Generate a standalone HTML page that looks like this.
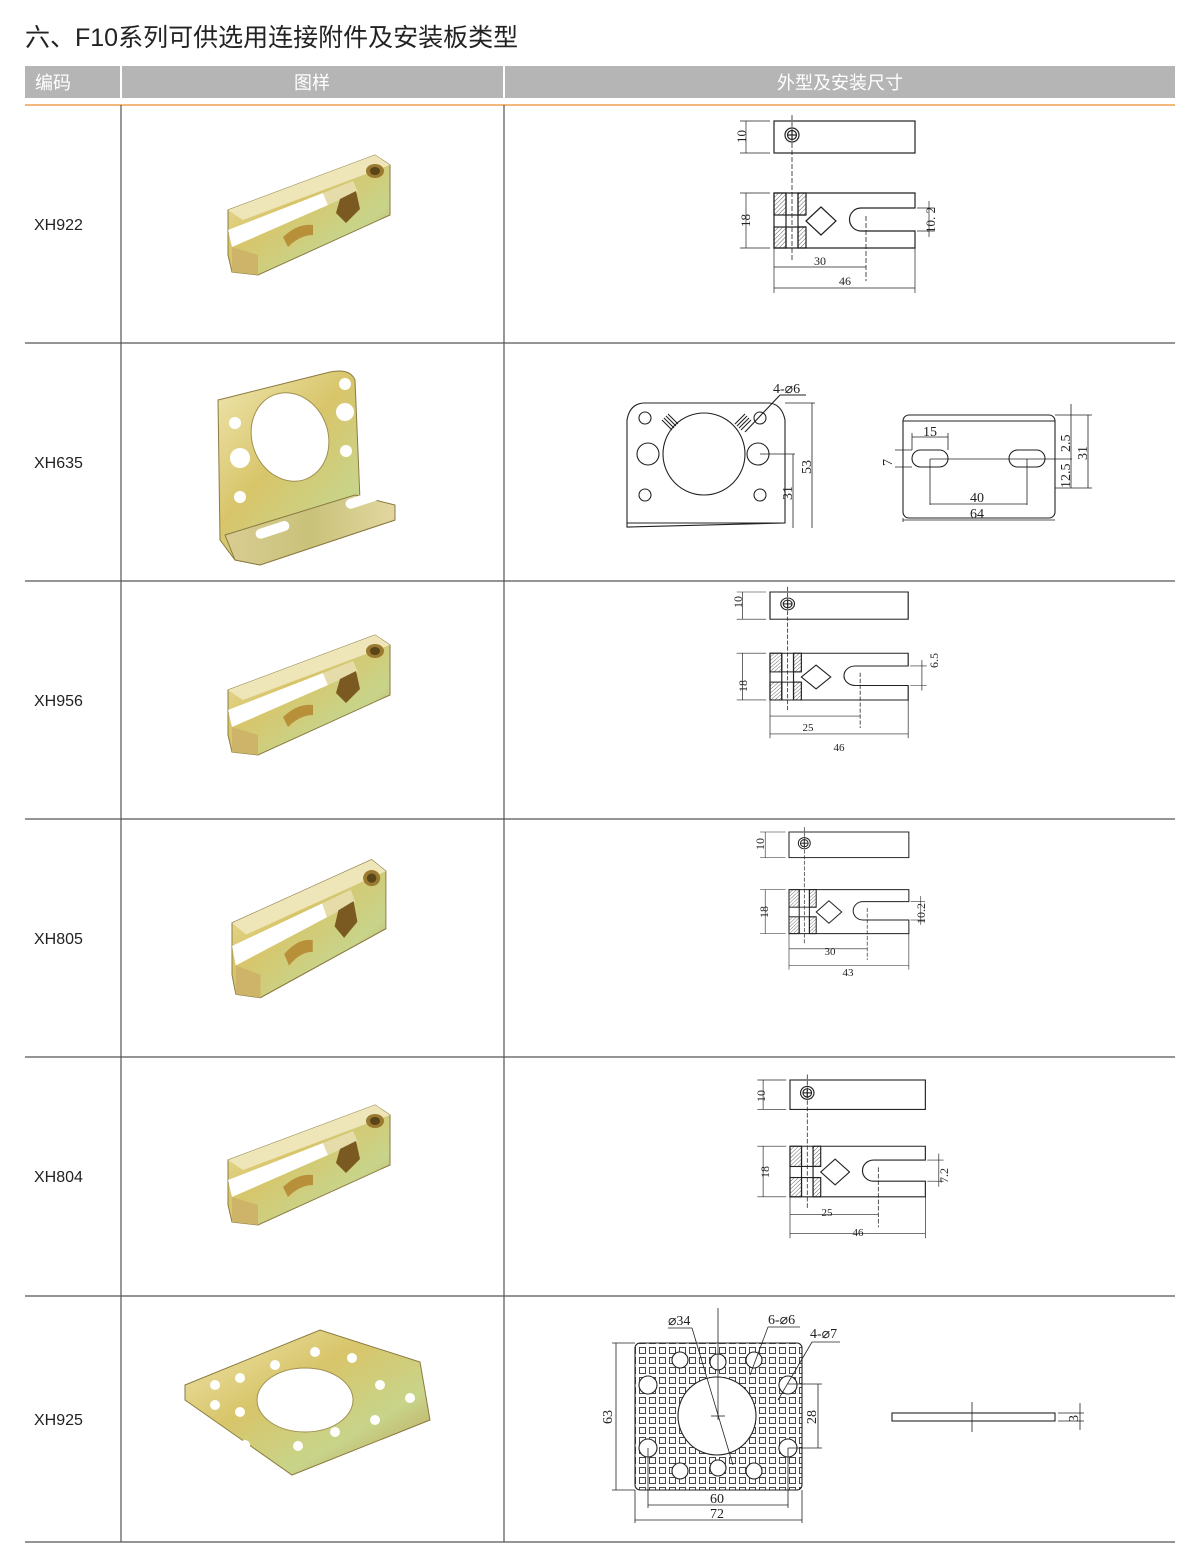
<!DOCTYPE html>
<html><head><meta charset="utf-8"><style>
body{margin:0;background:#fff;width:1200px;height:1568px;overflow:hidden;font-family:"Liberation Sans","Noto Sans CJK SC",sans-serif;}
svg{position:absolute;left:0;top:0}
</style></head><body>
<svg width="1200" height="1568" viewBox="0 0 1200 1568" xmlns="http://www.w3.org/2000/svg">
<defs>
<pattern id="hat" width="3" height="3" patternUnits="userSpaceOnUse" patternTransform="rotate(45)"><line x1="0" y1="0" x2="0" y2="3" stroke="#333" stroke-width="0.8"/></pattern>
<pattern id="grid" width="10" height="10" patternUnits="userSpaceOnUse" x="638" y="1346"><rect x="1.5" y="1.5" width="6" height="6" fill="none" stroke="#333" stroke-width="0.9"/></pattern>
<linearGradient id="gold" x1="0" y1="0" x2="1" y2="1"><stop offset="0" stop-color="#efe6b0"/><stop offset="0.4" stop-color="#d8c56a"/><stop offset="0.7" stop-color="#c8d48a"/><stop offset="1" stop-color="#b89a50"/></linearGradient>
<linearGradient id="gold2" x1="0" y1="0" x2="1" y2="0"><stop offset="0" stop-color="#d9cc92"/><stop offset="0.5" stop-color="#c9c27a"/><stop offset="1" stop-color="#e2d7a0"/></linearGradient>
<g id="clamp" fill="none" stroke="#222" stroke-width="1.2">
<rect x="0" y="0" width="141" height="32"/>
<circle cx="18" cy="14" r="7"/><circle cx="18" cy="14" r="4.5"/><line x1="18" y1="10" x2="18" y2="18"/><line x1="14" y1="14" x2="22" y2="14"/>
<line x1="18" y1="-6" x2="18" y2="140" stroke-dasharray="5,2" stroke-width="0.8"/>
<line x1="-34" y1="0" x2="-4" y2="0" stroke-width="0.7"/><line x1="-34" y1="32" x2="-4" y2="32" stroke-width="0.7"/><line x1="-28" y1="0" x2="-28" y2="32" stroke-width="0.7"/>
<rect x="0" y="72" width="12" height="22" fill="url(#hat)"/><rect x="0" y="106" width="12" height="21" fill="url(#hat)"/>
<rect x="24" y="72" width="8" height="22" fill="url(#hat)"/><rect x="24" y="106" width="8" height="21" fill="url(#hat)"/>
<path d="M141,72 H0 V127 H141 V110 H87 A11.5 11.5 0 0 1 87,87 H141 Z"/>
<line x1="12" y1="94" x2="32" y2="94"/><line x1="12" y1="106" x2="32" y2="106"/>
<line x1="12" y1="72" x2="12" y2="127"/><line x1="24" y1="72" x2="24" y2="127"/>
<path d="M32,100 L47,86 L62,100 L47,114 Z"/>
<line x1="92" y1="95" x2="92" y2="160" stroke-dasharray="5,2" stroke-width="0.8"/>
<line x1="-34" y1="72" x2="-4" y2="72" stroke-width="0.7"/><line x1="-34" y1="127" x2="-4" y2="127" stroke-width="0.7"/><line x1="-28" y1="72" x2="-28" y2="127" stroke-width="0.7"/>
<line x1="0" y1="127" x2="0" y2="172" stroke-width="0.7"/><line x1="141" y1="127" x2="141" y2="172" stroke-width="0.7"/>
<line x1="0" y1="146" x2="92" y2="146" stroke-width="0.7"/><line x1="0" y1="167" x2="141" y2="167" stroke-width="0.7"/>
<line x1="143" y1="87" x2="160" y2="87" stroke-width="0.7"/><line x1="143" y1="110" x2="160" y2="110" stroke-width="0.7"/><line x1="155" y1="80" x2="155" y2="116" stroke-width="0.7"/>
</g>
<g id="photoClamp">
<path d="M0,53 L147,-2 L162,8 L162,58 L30,118 L4,115 L0,98 Z" fill="url(#gold)" stroke="#8a7a40" stroke-width="1"/>
<path d="M0,53 L147,-2 L162,8 L15,63 Z" fill="#eee6b8"/>
<path d="M0,73 L95,36 L100,48 L4,90 Z" fill="#fff"/>
<path d="M95,36 L100,48 L130,35 L125,24 Z" fill="#e6dcaa"/>
<path d="M4,90 L30,98 L30,118 L4,115 Z" fill="#cdb468"/>
<ellipse cx="147" cy="14" rx="9" ry="7" fill="#9a7a30"/><ellipse cx="147" cy="14" rx="5" ry="4" fill="#5a4518"/>
<path d="M112,42 L128,34 L132,52 L118,66 L108,56 Z" fill="#7a5a20"/>
<path d="M55,80 Q70,66 85,68 L85,78 Q72,78 60,90 Z" fill="#b8903a"/>
</g>
</defs>

<text x="25" y="46" font-size="25" fill="#222" font-family="Liberation Sans,Noto Sans CJK SC,sans-serif">六、F10系列可供选用连接附件及安装板类型</text>
<rect x="25" y="66" width="1150" height="32" fill="#b5b5b5"/>
<line x1="121" y1="66" x2="121" y2="98" stroke="#fff" stroke-width="2"/>
<line x1="504" y1="66" x2="504" y2="98" stroke="#fff" stroke-width="2"/>
<text x="35" y="89" font-size="18" fill="#fff">编码</text>
<text x="312" y="89" font-size="18" fill="#fff" text-anchor="middle">图样</text>
<text x="840" y="89" font-size="18" fill="#fff" text-anchor="middle">外型及安装尺寸</text>
<line x1="25" y1="105" x2="1175" y2="105" stroke="#f0a050" stroke-width="1.5"/>
<g stroke="#555" stroke-width="1.2">
<line x1="121" y1="105" x2="121" y2="1542"/><line x1="504" y1="105" x2="504" y2="1542"/>
<line x1="25" y1="343" x2="1175" y2="343"/><line x1="25" y1="581" x2="1175" y2="581"/>
<line x1="25" y1="819" x2="1175" y2="819"/><line x1="25" y1="1057" x2="1175" y2="1057"/>
<line x1="25" y1="1296" x2="1175" y2="1296"/><line x1="25" y1="1542" x2="1175" y2="1542"/>
</g>
<g font-size="16" fill="#222">
<text x="34" y="230">XH922</text><text x="34" y="468">XH635</text><text x="34" y="706">XH956</text>
<text x="34" y="944">XH805</text><text x="34" y="1182">XH804</text><text x="34" y="1425">XH925</text>
</g>

<!-- photos -->
<use href="#photoClamp" transform="translate(228,157)"/>
<use href="#photoClamp" transform="translate(228,637)"/>
<use href="#photoClamp" transform="translate(232,862) scale(0.95,1.15)"/>
<use href="#photoClamp" transform="translate(228,1107)"/>
<g>
<path d="M218,400 L330,372 Q350,368 355,380 L360,500 L395,505 L395,520 L260,565 L235,560 L220,540 Z" fill="url(#gold)" stroke="#8a7a40"/>
<path d="M225,535 L355,495 L395,505 L395,520 L260,565 L235,560 Z" fill="url(#gold2)" stroke="#8a7a40"/>
<ellipse cx="290" cy="437" rx="38" ry="45" transform="rotate(-20 290 437)" fill="#fff" stroke="#a09050"/>
<circle cx="235" cy="423" r="6" fill="#fff"/><circle cx="240" cy="458" r="10" fill="#fff"/><circle cx="240" cy="497" r="6" fill="#fff"/>
<circle cx="345" cy="384" r="6" fill="#fff"/><circle cx="345" cy="412" r="9" fill="#fff"/><circle cx="346" cy="451" r="6" fill="#fff"/>
<rect x="255" y="525" width="35" height="10" rx="5" transform="rotate(-18 272 530)" fill="#fff"/>
<rect x="345" y="495" width="35" height="10" rx="5" transform="rotate(-18 362 500)" fill="#fff"/>
</g>
<g>
<path d="M185,1385 L320,1330 L420,1362 L430,1420 L292,1475 L185,1400 Z" fill="url(#gold)" stroke="#8a7a40"/>
<ellipse cx="305" cy="1400" rx="48" ry="32" fill="#fff" stroke="#a09050"/>
<g fill="#fff"><circle cx="215" cy="1385" r="5"/><circle cx="240" cy="1378" r="5"/><circle cx="275" cy="1365" r="5"/><circle cx="315" cy="1352" r="5"/><circle cx="352" cy="1358" r="5"/><circle cx="380" cy="1385" r="5"/><circle cx="410" cy="1398" r="5"/><circle cx="375" cy="1420" r="5"/><circle cx="335" cy="1432" r="5"/><circle cx="298" cy="1446" r="5"/><circle cx="245" cy="1445" r="5"/><circle cx="215" cy="1405" r="5"/><circle cx="240" cy="1412" r="5"/></g>
</g>

<!-- clamp drawings -->
<g font-family="Liberation Serif,serif" fill="#222">
<use href="#clamp" transform="translate(774,121)"/>
<text font-size="13" transform="translate(746,143) rotate(-90)">10</text>
<text font-size="13" transform="translate(750,227) rotate(-90)">18</text>
<text x="820" y="265" font-size="12" text-anchor="middle">30</text>
<text x="845" y="285" font-size="12" text-anchor="middle">46</text>
<text font-size="13" transform="translate(935,233) rotate(-90)">10. 2</text>

<use href="#clamp" transform="translate(770,592) scale(0.98,0.85)"/>
<text font-size="12" transform="translate(742,608) rotate(-90)">10</text>
<text font-size="12" transform="translate(747,692) rotate(-90)">18</text>
<text x="808" y="731" font-size="11" text-anchor="middle">25</text>
<text x="839" y="751" font-size="11" text-anchor="middle">46</text>
<text font-size="12" transform="translate(938,668) rotate(-90)">6.5</text>

<use href="#clamp" transform="translate(789,832) scale(0.85,0.8)"/>
<text font-size="12" transform="translate(764,850) rotate(-90)">10</text>
<text font-size="12" transform="translate(768,918) rotate(-90)">18</text>
<text x="830" y="955" font-size="11" text-anchor="middle">30</text>
<text x="848" y="976" font-size="11" text-anchor="middle">43</text>
<text font-size="12" transform="translate(925,924) rotate(-90)">10.2</text>

<use href="#clamp" transform="translate(790,1080) scale(0.96,0.92)"/>
<text font-size="12" transform="translate(765,1102) rotate(-90)">10</text>
<text font-size="12" transform="translate(769,1178) rotate(-90)">18</text>
<text x="827" y="1216" font-size="11" text-anchor="middle">25</text>
<text x="858" y="1236" font-size="11" text-anchor="middle">46</text>
<text font-size="12" transform="translate(948,1183) rotate(-90)">7.2</text>
</g>

<!-- XH635 drawings -->
<g fill="none" stroke="#222" stroke-width="1.1">
<path d="M627,527 L627,420 Q630,403 645,403 L770,403 Q782,405 785,420 L785,523 Z"/>
<line x1="627" y1="523" x2="785" y2="523"/>
<circle cx="704" cy="454" r="41"/>
<circle cx="645" cy="418" r="6"/><circle cx="760" cy="418" r="6"/>
<circle cx="648" cy="454" r="11"/><circle cx="758" cy="454" r="11"/>
<circle cx="645" cy="495" r="6"/><circle cx="760" cy="495" r="6"/>
<path d="M662,420 L672,430 M664,418 L674,428 M666,416 L676,426 M668,414 L678,424"/>
<path d="M735,424 L745,414 M737,426 L747,416 M739,428 L749,418 M741,430 L751,420"/>
<line x1="745" y1="432" x2="780" y2="395"/><line x1="780" y1="395" x2="806" y2="395"/>
<line x1="760" y1="454" x2="795" y2="454" stroke-width="0.8"/>
<line x1="793" y1="454" x2="793" y2="528" stroke-width="0.8"/>
<line x1="785" y1="403" x2="815" y2="403" stroke-width="0.8"/>
<line x1="812" y1="403" x2="812" y2="528" stroke-width="0.8"/>
<rect x="903" y="415" width="152" height="103" rx="6"/>
<line x1="903" y1="421" x2="1055" y2="421"/>
<rect x="912" y="450" width="36" height="17" rx="8.5"/>
<rect x="1009" y="450" width="36" height="17" rx="8.5"/>
<line x1="930" y1="459" x2="1072" y2="459" stroke-width="0.8"/>
<line x1="930" y1="459" x2="930" y2="505" stroke-width="0.8"/><line x1="1027" y1="459" x2="1027" y2="505" stroke-width="0.8"/>
<line x1="930" y1="504" x2="1027" y2="504" stroke-width="0.8"/>
<line x1="903" y1="518" x2="903" y2="522" stroke-width="0.8"/>
<line x1="903" y1="520" x2="1055" y2="520" stroke-width="0.8"/>
<line x1="912" y1="433" x2="912" y2="450" stroke-width="0.8"/><line x1="948" y1="433" x2="948" y2="450" stroke-width="0.8"/>
<line x1="912" y1="437" x2="948" y2="437" stroke-width="0.8"/>
<line x1="895" y1="450" x2="912" y2="450" stroke-width="0.8"/><line x1="895" y1="467" x2="912" y2="467" stroke-width="0.8"/>
<line x1="1071" y1="404" x2="1071" y2="488" stroke-width="0.8"/>
<line x1="1088" y1="415" x2="1088" y2="488" stroke-width="0.8"/>
<line x1="1055" y1="415" x2="1092" y2="415" stroke-width="0.8"/><line x1="1055" y1="488" x2="1092" y2="488" stroke-width="0.8"/>
</g>
<g font-family="Liberation Serif,serif" fill="#222" font-size="14">
<text x="773" y="393">4-⌀6</text>
<text transform="translate(811,474) rotate(-90)">53</text>
<text transform="translate(792,500) rotate(-90)">31</text>
<text x="923" y="436">15</text>
<text transform="translate(892,466) rotate(-90)">7</text>
<text x="970" y="502">40</text>
<text x="970" y="518">64</text>
<text transform="translate(1070,452) rotate(-90)">2.5</text>
<text transform="translate(1070,488) rotate(-90)">12.5</text>
<text transform="translate(1087,460) rotate(-90)">31</text>
</g>

<!-- XH925 drawing -->
<g fill="none" stroke="#222" stroke-width="1.1">
<rect x="635" y="1343" width="167" height="147" rx="5" fill="url(#grid)"/>
<circle cx="717" cy="1416" r="39" fill="#fff"/>
<g fill="#fff"><circle cx="680" cy="1360" r="8"/><circle cx="718" cy="1362" r="8"/><circle cx="754" cy="1360" r="8"/>
<circle cx="680" cy="1471" r="8"/><circle cx="718" cy="1468" r="8"/><circle cx="754" cy="1471" r="8"/>
<circle cx="648" cy="1385" r="9"/><circle cx="788" cy="1385" r="9"/><circle cx="648" cy="1448" r="9"/><circle cx="788" cy="1448" r="9"/></g>
<line x1="718" y1="1308" x2="718" y2="1420" stroke-width="0.8"/><line x1="711" y1="1416" x2="725" y2="1416" stroke-width="0.8"/>
<line x1="692" y1="1328" x2="733" y2="1465" stroke-width="0.8"/><line x1="668" y1="1328" x2="692" y2="1328" stroke-width="0.8"/>
<line x1="750" y1="1375" x2="768" y2="1327" stroke-width="0.8"/><line x1="768" y1="1327" x2="800" y2="1327" stroke-width="0.8"/>
<line x1="778" y1="1400" x2="812" y2="1342" stroke-width="0.8"/><line x1="812" y1="1342" x2="840" y2="1342" stroke-width="0.8"/>
<line x1="612" y1="1343" x2="635" y2="1343" stroke-width="0.8"/><line x1="612" y1="1490" x2="635" y2="1490" stroke-width="0.8"/>
<line x1="616" y1="1343" x2="616" y2="1490" stroke-width="0.8"/>
<line x1="788" y1="1384" x2="822" y2="1384" stroke-width="0.8"/><line x1="788" y1="1448" x2="822" y2="1448" stroke-width="0.8"/>
<line x1="818" y1="1384" x2="818" y2="1448" stroke-width="0.8"/>
<line x1="648" y1="1448" x2="648" y2="1508" stroke-width="0.8"/><line x1="788" y1="1448" x2="788" y2="1508" stroke-width="0.8"/>
<line x1="648" y1="1505" x2="788" y2="1505" stroke-width="0.8"/>
<line x1="635" y1="1490" x2="635" y2="1523" stroke-width="0.8"/><line x1="802" y1="1490" x2="802" y2="1523" stroke-width="0.8"/>
<line x1="635" y1="1520" x2="802" y2="1520" stroke-width="0.8"/>
<rect x="892" y="1413" width="163" height="8"/>
<line x1="972" y1="1402" x2="972" y2="1432" stroke-width="0.8"/>
<line x1="1080" y1="1403" x2="1080" y2="1430" stroke-width="0.8"/>
<line x1="1058" y1="1413" x2="1084" y2="1413" stroke-width="0.8"/><line x1="1058" y1="1421" x2="1084" y2="1421" stroke-width="0.8"/>
</g>
<g font-family="Liberation Serif,serif" fill="#222" font-size="14">
<text x="668" y="1325">⌀34</text>
<text x="768" y="1324">6-⌀6</text>
<text x="810" y="1338">4-⌀7</text>
<text transform="translate(612,1424) rotate(-90)">63</text>
<text transform="translate(816,1424) rotate(-90)">28</text>
<text x="710" y="1503">60</text>
<text x="710" y="1518">72</text>
<text transform="translate(1078,1422) rotate(-90)">3</text>
</g>
</svg>
</body></html>
